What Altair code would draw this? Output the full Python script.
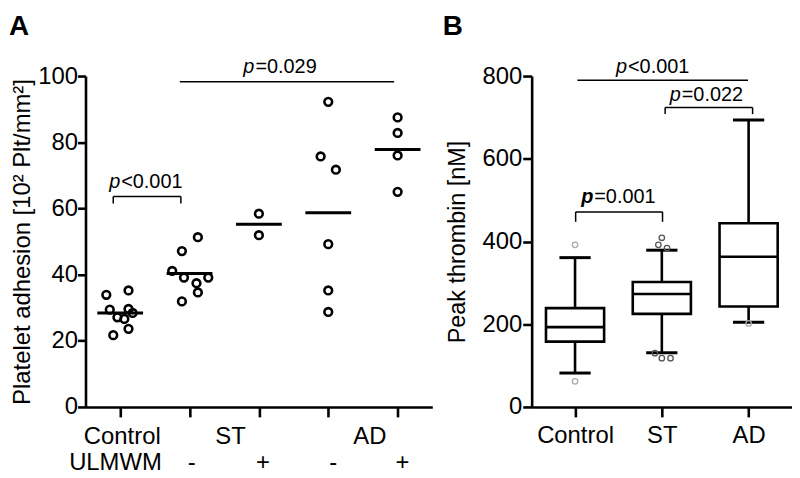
import altair as alt
import pandas as pd

FONT = "Liberation Sans"

# ---------------- Panel A data ----------------
a_positions = [1, 2, 3, 4, 5]
a_ctrl = [33.9, 35.2, 29.4, 29.6, 27.1, 26.6, 28.4, 21.7, 23.6]
a_ctrl_jit = [-0.20, 0.12, -0.15, 0.12, -0.04, 0.06, 0.18, -0.10, 0.12]
a_st_minus = [51.3, 47.1, 41.1, 39.1, 39.1, 37.4, 34.6, 31.9]
a_st_minus_jit = [0.12, -0.11, -0.25, -0.08, 0.27, 0.10, 0.12, -0.11]
a_st_plus = [58.4, 51.9]
a_st_plus_jit = [0.0, 0.0]
a_ad_minus = [92.2, 75.7, 71.7, 49.2, 35.2, 28.7]
a_ad_minus_jit = [0.0, -0.11, 0.11, 0.0, 0.0, 0.0]
a_ad_plus = [87.5, 82.8, 76.0, 65.0]
a_ad_plus_jit = [0.0, 0.0, 0.0, 0.0]
a_medians = [28.4, 40.3, 55.2, 58.7, 77.8]

a_row1_labels = ["Control", "ST", "AD"]
a_row1_pos = [1.03, 2.59, 4.6]
a_row2_label = "ULMWM"
a_row2_label_pos = 1.6
a_row2_signs = ["-", "+", "-", "+"]
a_row2_pos = [2.03, 3.06, 4.07, 5.07]

# ---------------- Panel B data ----------------
b_groups = ["Control", "ST", "AD"]
b_positions = [1, 2, 3]
b_whisk_lo = [82, 131, 205]
b_q1 = [158, 225, 243]
b_median = [193, 273, 363]
b_q3 = [239, 302, 444]
b_whisk_hi = [361, 379, 694]
b_out_pos = [1, 1, 2, 2, 2, 2, 2, 2, 3]
b_out_vals = [392, 62, 409, 392, 384, 130, 118, 118, 202]
b_out_jit = [0.0, 0.0, 0.0, -0.04, 0.06, -0.08, 0.0, 0.10, 0.0]
b_out_color = ["#aaaaaa", "#aaaaaa", "#555555", "#555555", "#555555",
               "#555555", "#555555", "#555555", "#aaaaaa"]

# ---------------- build tables ----------------
pts = []
for pos, vals, jit in zip(a_positions,
                          [a_ctrl, a_st_minus, a_st_plus, a_ad_minus, a_ad_plus],
                          [a_ctrl_jit, a_st_minus_jit, a_st_plus_jit, a_ad_minus_jit, a_ad_plus_jit]):
    for v, j in zip(vals, jit):
        pts.append({"x": pos + j, "y": v})
a_pts = pd.DataFrame(pts)
a_med = pd.DataFrame({"x": [p - 0.33 for p in a_positions],
                      "x2": [p + 0.33 for p in a_positions],
                      "y": a_medians})
a_br = pd.DataFrame({
    "x":  [0.90, 0.90, 1.875, 1.86],
    "x2": [1.875, 0.90, 1.875, 4.95],
    "y":  [63.6, 63.6, 63.6, 98.3],
    "y2": [63.6, 61.5, 61.5, 98.3],
})
a_ptxt = pd.DataFrame({"x": [1.0, 2.935], "y": [66.1, 100.9],
                       "p": ["p", "p"], "rest": ["<0.001", "=0.029"]})
a_r1 = pd.DataFrame({"x": a_row1_pos, "t": a_row1_labels})
a_r2 = pd.DataFrame({"x": a_row2_pos, "t": a_row2_signs})
a_r2l = pd.DataFrame({"x": [a_row2_label_pos], "t": [a_row2_label]})

XA = alt.Scale(domain=[0.5, 5.5], nice=False, zero=False)
YA = alt.Scale(domain=[0, 100], nice=False)

LW = 2.6

pointsA = alt.Chart(a_pts).mark_point(shape="circle", filled=False, color="black",
                                      strokeWidth=LW, size=60, opacity=1).encode(
    x=alt.X("x:Q", scale=XA,
            axis=alt.Axis(values=a_positions, labels=False, title=None, tickSize=10)),
    y=alt.Y("y:Q", scale=YA,
            axis=alt.Axis(values=[0, 20, 40, 60, 80, 100], title="Platelet adhesion [10² Plt/mm²]",
                          titleFontSize=24, titlePadding=3, labelFontSize=24, labelPadding=0,
                          tickSize=8)),
)
medA = alt.Chart(a_med).mark_rule(color="black", strokeWidth=LW + 0.4).encode(
    x="x:Q", x2="x2:Q", y="y:Q")
brA = alt.Chart(a_br).mark_rule(color="black", strokeWidth=1.5).encode(
    x="x:Q", x2="x2:Q", y="y:Q", y2="y2:Q")
pA = alt.Chart(a_ptxt).mark_text(align="right", baseline="alphabetic", fontStyle="italic",
                                  fontSize=20, font=FONT).encode(x="x:Q", y="y:Q", text="p:N")
restA = alt.Chart(a_ptxt).mark_text(align="left", baseline="alphabetic", dx=1,
                                     fontSize=20, font=FONT).encode(x="x:Q", y="y:Q", text="rest:N")
r1A = alt.Chart(a_r1).mark_text(align="center", baseline="alphabetic", fontSize=24, font=FONT).encode(
    x="x:Q", y=alt.value(370), text="t:N")
r2A = alt.Chart(a_r2).mark_text(align="center", baseline="alphabetic", fontSize=24, font=FONT).encode(
    x="x:Q", y=alt.value(396), text="t:N")
r2lA = alt.Chart(a_r2l).mark_text(align="right", baseline="alphabetic", fontSize=24, font=FONT).encode(
    x="x:Q", y=alt.value(396), text="t:N")
letterA = alt.Chart(pd.DataFrame({"t": ["A"]})).mark_text(
    align="left", baseline="alphabetic", fontSize=28, fontWeight="bold", font=FONT).encode(
    x=alt.value(-77), y=alt.value(-41), text="t:N")

panelA = alt.layer(pointsA, medA, brA, pA, restA, r1A, r2A, r2lA, letterA).properties(
    width=349, height=333)

# Panel B tables
b_box = pd.DataFrame({"pos": b_positions, "lo": b_whisk_lo, "q1": b_q1, "med": b_median,
                      "q3": b_q3, "hi": b_whisk_hi})
b_box["bx1"] = b_box["pos"] - 0.335
b_box["bx2"] = b_box["pos"] + 0.335
b_box["cx1"] = b_box["pos"] - 0.18
b_box["cx2"] = b_box["pos"] + 0.18
b_out = pd.DataFrame({"x": [p + j for p, j in zip(b_out_pos, b_out_jit)], "y": b_out_vals,
                      "c": b_out_color})
b_br = pd.DataFrame({
    "x":  [1.027, 2.038, 2.038, 3.046, 1.007, 1.007, 2.008],
    "x2": [2.993, 3.046, 2.038, 3.046, 2.008, 1.007, 2.008],
    "y":  [790, 724, 724, 724, 471.6, 471.6, 471.6],
    "y2": [790, 724, 708, 708, 471.6, 447.6, 447.6],
})
b_ptxt = pd.DataFrame({"x": [1.599, 2.218, 1.21], "y": [807, 740, 492.5],
                       "p": ["p", "p", "p"], "rest": ["<0.001", "=0.022", "=0.001"],
                       "bold": [0, 0, 1]})

XB = alt.Scale(domain=[0.5, 3.5], nice=False, zero=False)
YB = alt.Scale(domain=[0, 800], nice=False)

whiskB = alt.Chart(b_box).mark_rule(color="black", strokeWidth=LW).encode(
    x=alt.X("pos:Q", scale=XB,
            axis=alt.Axis(values=b_positions, title=None, tickSize=10, labelFontSize=24,
                          labelPadding=7,
                          labelExpr="['Control','ST','AD'][datum.value-1]")),
    y=alt.Y("lo:Q", scale=YB,
            axis=alt.Axis(values=[0, 200, 400, 600, 800], title="Peak thrombin [nM]",
                          titleFontSize=23.5, titlePadding=13, labelFontSize=24, labelPadding=1,
                          tickSize=9)),
    y2="hi:Q")
boxB = alt.Chart(b_box).mark_rect(fill="white", stroke="black", strokeWidth=LW).encode(
    x="bx1:Q", x2="bx2:Q", y="q1:Q", y2="q3:Q")
medB = alt.Chart(b_box).mark_rule(color="black", strokeWidth=LW).encode(
    x="bx1:Q", x2="bx2:Q", y="med:Q")
capLoB = alt.Chart(b_box).mark_rule(color="black", strokeWidth=LW + 0.4).encode(
    x="cx1:Q", x2="cx2:Q", y="lo:Q")
capHiB = alt.Chart(b_box).mark_rule(color="black", strokeWidth=LW + 0.4).encode(
    x="cx1:Q", x2="cx2:Q", y="hi:Q")
outB = alt.Chart(b_out).mark_point(shape="circle", filled=False, strokeWidth=1.3, size=30,
                                   opacity=1).encode(
    x="x:Q", y="y:Q", stroke=alt.Stroke("c:N", scale=None))
brB = alt.Chart(b_br).mark_rule(color="black", strokeWidth=1.5).encode(
    x="x:Q", x2="x2:Q", y="y:Q", y2="y2:Q")
pB = alt.Chart(b_ptxt).transform_filter("datum.bold == 0").mark_text(
    align="right", baseline="alphabetic", fontStyle="italic", fontSize=20, font=FONT).encode(
    x="x:Q", y="y:Q", text="p:N")
pBb = alt.Chart(b_ptxt).transform_filter("datum.bold == 1").mark_text(
    align="right", baseline="alphabetic", fontStyle="italic", fontWeight="bold",
    fontSize=20, font=FONT).encode(x="x:Q", y="y:Q", text="p:N")
restB = alt.Chart(b_ptxt).mark_text(align="left", baseline="alphabetic", dx=1,
                                     fontSize=20, font=FONT).encode(x="x:Q", y="y:Q", text="rest:N")
letterB = alt.Chart(pd.DataFrame({"t": ["B"]})).mark_text(
    align="left", baseline="alphabetic", fontSize=28, fontWeight="bold", font=FONT).encode(
    x=alt.value(-89.5), y=alt.value(-41), text="t:N")

panelB = alt.layer(whiskB, boxB, medB, capLoB, capHiB, outB, brB, pB, pBb, restB, letterB).properties(
    width=262, height=333)

chart = alt.hconcat(panelA, panelB, spacing=10).properties(
    padding={"left": 1, "top": 4, "right": 0, "bottom": 0}).configure_view(
    stroke=None).configure_axis(
    grid=False, domainColor="black", domainWidth=LW, tickColor="black", tickWidth=LW,
    labelColor="black", titleColor="black", labelFont=FONT, titleFont=FONT,
    titleFontWeight="normal", labelPadding=3)

chart.save("out.html", embed_options={"renderer": "svg", "actions": False})
